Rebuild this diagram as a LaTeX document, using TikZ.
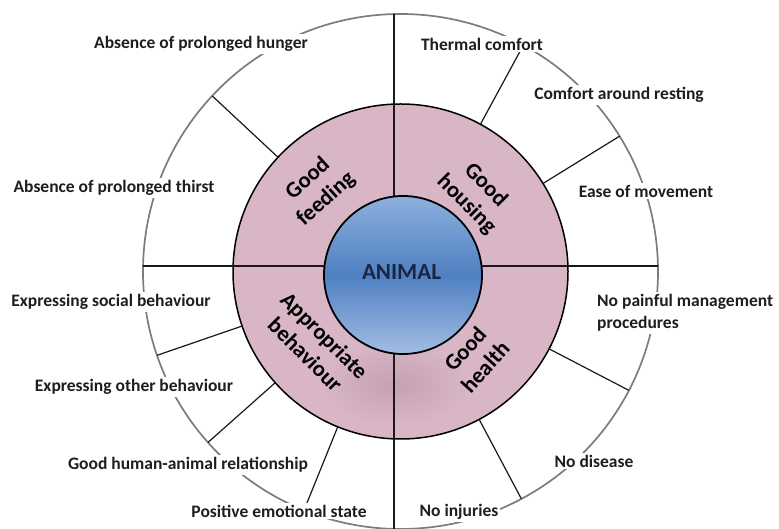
\documentclass[tikz,border=0pt]{standalone}
\usepackage{fontspec}
\setmainfont{Carlito}
\usetikzlibrary{calc}
\definecolor{pinkbase}{HTML}{D8B6C5}
\definecolor{pinkdark}{HTML}{C4A2B2}
\definecolor{bluetop}{HTML}{8DB0DE}
\definecolor{bluemid}{HTML}{4F80C2}
\definecolor{bluebot}{HTML}{A3BDE2}
\definecolor{navy}{HTML}{1C2540}
\definecolor{ringgray}{HTML}{7C7C7C}
\definecolor{labeltext}{HTML}{1E1E1E}
\tikzset{
  lbl/.style={fill=white, inner sep=2pt, text=labeltext, font=\fontsize{17.5}{22}\selectfont\bfseries},
  cat/.style={text=black, align=center, inner sep=0pt, font=\fontsize{22.5}{27}\selectfont\bfseries},
  spoke/.style={draw=black!90, line width=1.2pt},
  cross/.style={draw=black!90, line width=1.3pt},
  ring/.style={draw=ringgray, line width=1.7pt},
}
\begin{document}
\begin{tikzpicture}[x=1pt,y=1pt]
\useasboundingbox (0,0) rectangle (779,529);
\coordinate (C) at (400.5,257.5);
\coordinate (B) at (403,254);
% pink ring
\fill[pinkbase] (C) circle (167.5);
\begin{scope}
  \clip (C) circle (167.5);
  \shade[inner color=pinkdark, outer color=pinkbase] (395,145) ellipse (75 and 42);
\end{scope}
\draw[black, line width=1.5pt] (C) circle (167.5);
% outer ring
\draw[ring] (C) circle (257.5);
% cross lines
\coordinate (vtop) at (394,515);
\coordinate (vbot) at (394,0);
\coordinate (hl) at (143,263);
\coordinate (hr) at (658,263);
\draw[cross] (vtop) -- (vbot);
\draw[cross] (hl) -- (hr);
% spokes
\foreach \a in {137,61.5,31.7,199,221.6,248,-27.5,-62}{
  \draw[spoke] ($(C)+(\a:167.5)$) -- ($(C)+(\a:257.5)$);
}
% animal circle
\shade[top color=bluetop, bottom color=bluebot, middle color=bluemid] (B) circle (79);
\draw[black, line width=1.8pt] (B) circle (79);
\node[text=navy, font=\fontsize{23}{25}\selectfont\bfseries] (animal) at (401.5,256.5) {ANIMAL};
% category labels
\node[cat, rotate=42] (feeding) at (317,340) {Good\\feeding};
\node[cat, rotate=-45] (housing) at (476,334) {Good\\housing};
\node[cat, rotate=-45] (behav) at (315,184) {Appropriate\\behaviour};
\node[cat, rotate=48] (health) at (475,171) {Good\\health};
% outer labels
\node[lbl] (hunger) at (201,485) {Absence of prolonged hunger};
\node[lbl] (thirst) at (114,341) {Absence of prolonged thirst};
\node[lbl] (thermal) at (482,485) {Thermal comfort};
\node[lbl] (resting) at (619,434) {Comfort around resting};
\node[lbl] (movement) at (646,338) {Ease of movement};
\node[lbl] (social) at (111,227) {Expressing social behaviour};
\node[lbl] (other) at (134,142) {Expressing other behaviour};
\node[lbl] (human) at (188,64) {Good human-animal relationship};
\node[lbl] (positive) at (279,18) {Positive emotional state};
\node[lbl, anchor=west, align=left] (painful) at (595,216) {No painful management\\procedures};
\node[lbl] (disease) at (594,68) {No disease};
\node[lbl] (injuries) at (459,17) {No injuries};
\end{tikzpicture}
\end{document}
